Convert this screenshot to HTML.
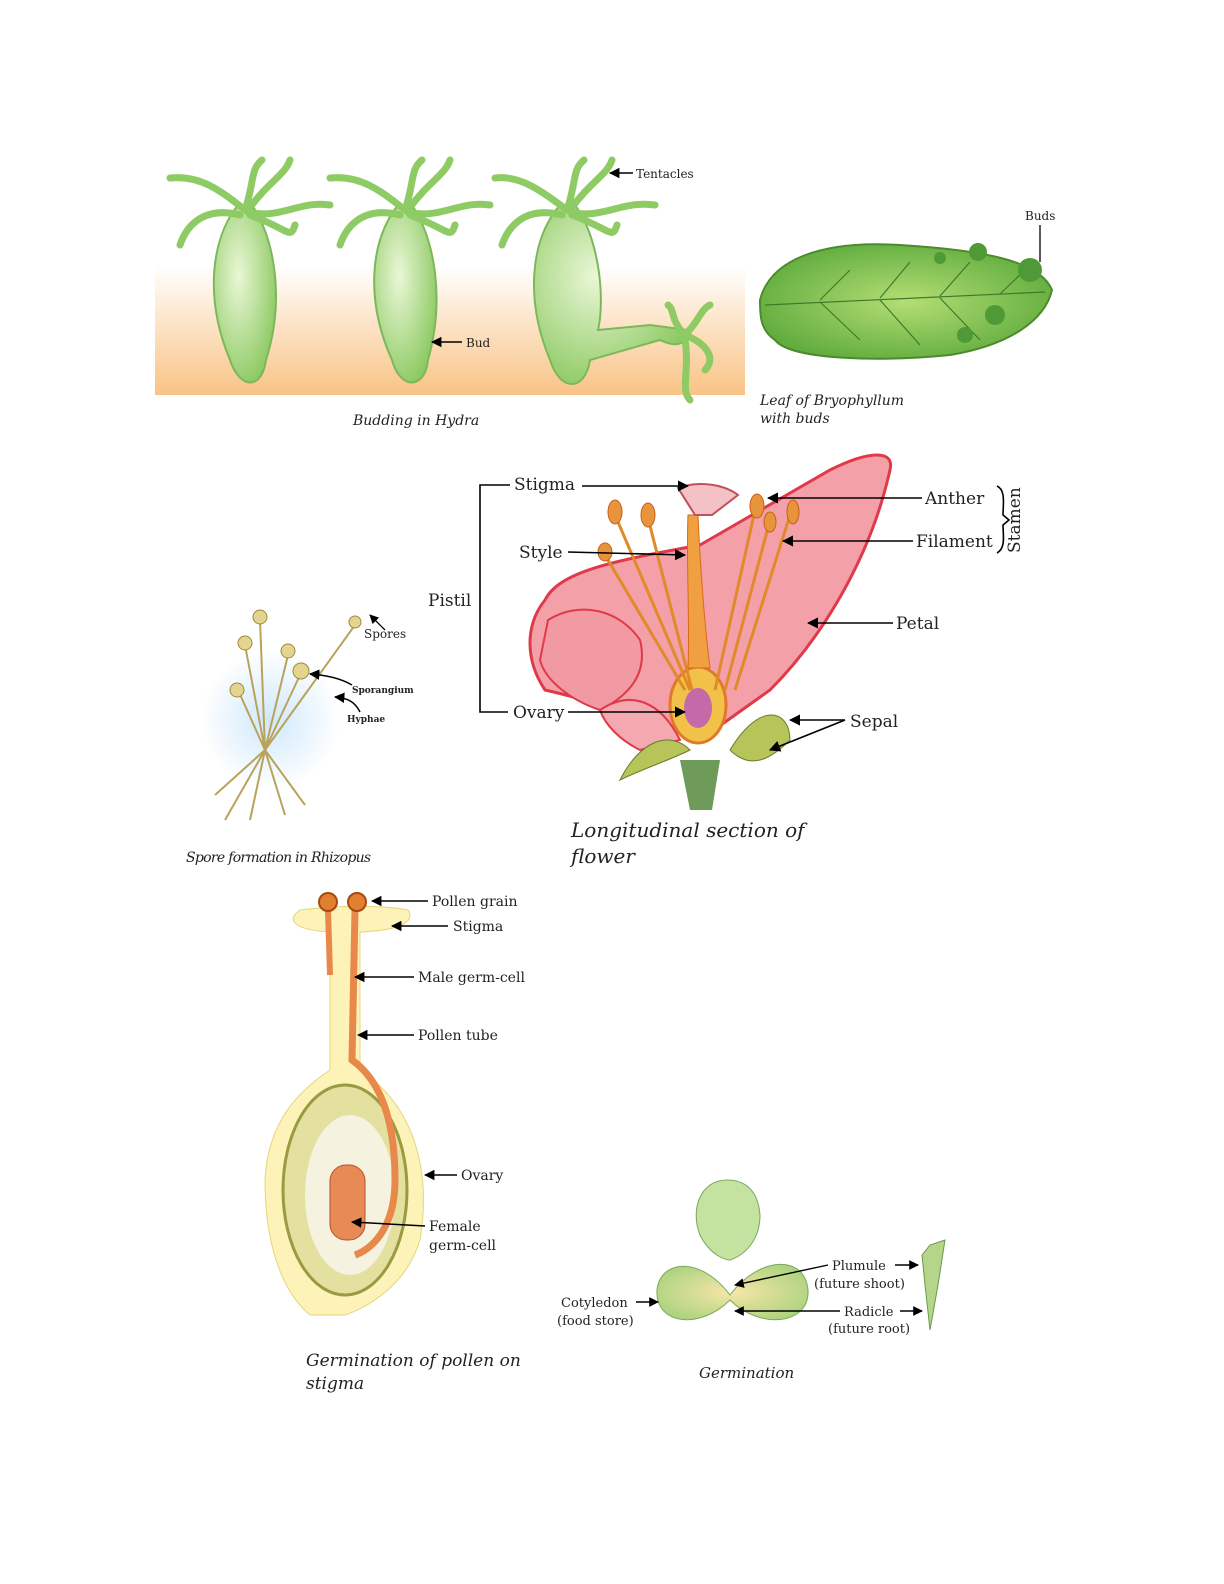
<!DOCTYPE html>
<html><head><meta charset="utf-8"><style>
body{margin:0;background:#fff}
svg{display:block}
text{font-family:"DejaVu Serif","Liberation Serif",serif;fill:#222}
.i{font-style:italic}
</style></head><body>
<svg width="1224" height="1584" viewBox="0 0 1224 1584" xmlns="http://www.w3.org/2000/svg">
<defs>
<linearGradient id="og" x1="0" y1="0" x2="0" y2="1"><stop offset="0" stop-color="#fff"/><stop offset="1" stop-color="#f9c385"/></linearGradient>
<radialGradient id="hg" cx="0.4" cy="0.4" r="0.7"><stop offset="0" stop-color="#eaf7d6"/><stop offset="1" stop-color="#86c65a"/></radialGradient>
<radialGradient id="lg" cx="0.5" cy="0.5" r="0.6"><stop offset="0" stop-color="#b4de74"/><stop offset="1" stop-color="#5aa83a"/></radialGradient>
<radialGradient id="bl" cx="0.5" cy="0.5" r="0.5"><stop offset="0" stop-color="#cfe8fb"/><stop offset="1" stop-color="#fff"/></radialGradient>
<radialGradient id="cg" cx="0.5" cy="0.5" r="0.6"><stop offset="0" stop-color="#f8e6a8"/><stop offset="1" stop-color="#a9d27e"/></radialGradient>
<marker id="a" viewBox="0 0 10 10" refX="9" refY="5" markerWidth="7" markerHeight="7" orient="auto-start-reverse"><path d="M0,0L10,5L0,10z" fill="#000"/></marker>
</defs>
<!-- Hydra -->
<rect x="155" y="265" width="590" height="130" fill="url(#og)"/>
<g fill="url(#hg)" stroke="#7cb85a" stroke-width="2">
<path d="M238,205 C210,240 205,300 230,360 C240,390 262,390 266,360 C285,300 275,240 252,205Z"/>
<path d="M398,205 C370,240 365,300 392,360 C400,390 425,390 428,360 C445,300 435,240 412,205Z"/>
<path d="M560,205 C530,240 525,300 550,360 C560,392 585,392 590,360 L660,340 C680,350 690,340 688,330 L650,325 L598,330 C605,300 600,240 575,205Z"/>
</g>
<g fill="none" stroke="#8fcb64" stroke-width="7" stroke-linecap="round">
<path d="M245,210 C220,190 200,175 170,178 M245,210 C255,180 250,170 262,160 M248,210 C270,180 285,175 290,160 M248,212 C280,220 300,200 330,205 M240,215 C200,205 185,230 180,245 M250,215 C290,230 290,240 295,225"/>
<path d="M405,210 C380,190 360,175 330,178 M405,210 C415,180 410,170 422,160 M408,210 C430,180 445,175 450,160 M408,212 C440,220 460,200 490,205 M400,215 C360,205 345,230 340,245 M410,215 C450,230 450,240 455,225"/>
<path d="M567,210 C540,190 520,175 495,178 M567,210 C577,180 572,170 584,160 M570,210 C592,180 607,175 612,160 M570,212 C602,220 622,200 655,205 M562,215 C522,205 507,230 502,245 M572,215 C612,230 612,240 617,225"/>
<path d="M685,335 C700,320 700,310 710,305 M685,335 C710,345 715,360 705,370 M685,340 C690,370 680,390 690,400 M685,335 C670,320 675,310 668,305"/>
</g>
<line x1="462" y1="342" x2="432" y2="342" stroke="#000" stroke-width="1.5" marker-end="url(#a)"/>
<text x="466" y="347" font-size="12">Bud</text>
<line x1="633" y1="173" x2="610" y2="173" stroke="#000" stroke-width="1.5" marker-end="url(#a)"/>
<text x="636" y="178" font-size="12">Tentacles</text>
<text x="353" y="425" font-size="14" class="i">Budding in Hydra</text>
<!-- Leaf -->
<path d="M760,300 C770,260 820,240 900,245 C980,250 1040,260 1052,290 C1045,320 1010,345 950,355 C880,362 790,360 775,340 C760,330 760,315 760,300Z" fill="url(#lg)" stroke="#4d8a2e" stroke-width="2"/>
<g stroke="#3e7a2a" fill="none" stroke-width="1.2"><path d="M765,305 L1045,292 M820,300 L850,270 M880,298 L910,262 M940,296 L970,262 M1000,294 L1025,270 M820,302 L860,340 M880,300 L920,345 M940,298 L980,340"/></g>
<g fill="#4f9a36"><circle cx="1030" cy="270" r="12"/><circle cx="978" cy="252" r="9"/><circle cx="940" cy="258" r="6"/><circle cx="995" cy="315" r="10"/><circle cx="965" cy="335" r="8"/></g>
<line x1="1040" y1="225" x2="1040" y2="262" stroke="#000" stroke-width="1.3"/>
<text x="1025" y="220" font-size="12">Buds</text>
<text x="760" y="405" font-size="14" class="i">Leaf of Bryophyllum</text>
<text x="760" y="423" font-size="14" class="i">with buds</text>
<!-- Rhizopus -->
<ellipse cx="270" cy="720" rx="70" ry="70" fill="url(#bl)"/>
<g stroke="#b9a35a" stroke-width="2" fill="none">
<path d="M265,750 L260,620 M265,750 L245,645 M265,750 L288,655 M265,750 L300,675 M265,750 L238,690 M265,750 L355,625 M265,750 L225,820 M265,750 L250,820 M265,750 L285,815 M265,750 L305,805 M265,750 L215,795"/>
</g>
<g fill="#e3d58f" stroke="#a08a3c"><circle cx="260" cy="617" r="7"/><circle cx="245" cy="643" r="7"/><circle cx="288" cy="651" r="7"/><circle cx="301" cy="671" r="8"/><circle cx="237" cy="690" r="7"/><circle cx="355" cy="622" r="6"/></g>
<line x1="385" y1="630" x2="370" y2="615" stroke="#000" stroke-width="1.3" marker-end="url(#a)"/>
<text x="364" y="638" font-size="12">Spores</text>
<path d="M352,685 C340,678 325,675 310,674" stroke="#000" stroke-width="1.5" fill="none" marker-end="url(#a)"/>
<text x="352" y="693" font-size="9" font-weight="bold">Sporangium</text>
<path d="M360,712 C355,702 348,698 335,697" stroke="#000" stroke-width="1.5" fill="none" marker-end="url(#a)"/>
<text x="347" y="722" font-size="9" font-weight="bold">Hyphae</text>
<text x="186" y="862" font-size="14" class="i" letter-spacing="-0.7">Spore formation in Rhizopus</text>
<!-- Flower -->
<path d="M545,600 C560,570 620,560 700,545 L830,470 C870,450 895,450 890,470 C870,560 820,640 770,690 L700,740 C650,720 590,700 545,690 C525,660 525,625 545,600Z" fill="#f4a0a8" stroke="#e03a4a" stroke-width="3"/>
<path d="M548,620 C580,600 620,610 640,640 C650,680 620,700 600,710 C570,700 545,680 540,660 Z" fill="#f29aa4" stroke="#e03a4a" stroke-width="2"/>
<path d="M600,710 C630,690 660,700 680,740 L640,750 C620,740 605,725 600,710Z" fill="#f4a8b0" stroke="#e03a4a" stroke-width="2"/>
<path d="M680,760 L690,810 L712,810 L720,760Z" fill="#6e9a5a"/>
<path d="M620,780 C640,740 670,730 690,750 C670,760 640,770 620,780Z M730,750 C760,700 790,710 790,740 C770,760 750,770 730,750Z" fill="#b6c45a" stroke="#6b7a2a"/>
<ellipse cx="698" cy="705" rx="28" ry="38" fill="#f2c14a" stroke="#e07a2a" stroke-width="3"/>
<ellipse cx="698" cy="708" rx="14" ry="20" fill="#c46aa8"/>
<path d="M688,668 C690,620 686,560 688,515 L698,515 C700,560 704,620 710,668Z" fill="#f0a040" stroke="#d86a1a"/>
<path d="M678,488 C700,480 725,485 738,495 L712,515 L695,515Z" fill="#f4c2c6" stroke="#c0505a" stroke-width="2"/>
<g stroke="#e08a2a" stroke-width="3" fill="none"><path d="M615,515 L690,690 M648,518 L692,690 M605,555 L685,690 M755,510 L715,690 M770,520 L725,690 M790,515 L735,690"/></g>
<g fill="#e8943a" stroke="#c8601a"><ellipse cx="615" cy="512" rx="7" ry="12"/><ellipse cx="648" cy="515" rx="7" ry="12"/><ellipse cx="605" cy="552" rx="7" ry="9"/><ellipse cx="757" cy="506" rx="7" ry="12"/><ellipse cx="770" cy="522" rx="6" ry="10"/><ellipse cx="793" cy="512" rx="6" ry="12"/></g>
<g stroke="#000" stroke-width="1.6" fill="none">
<path d="M510,485 L480,485 L480,712 L508,712"/>
<line x1="582" y1="486" x2="688" y2="486" marker-end="url(#a)"/>
<line x1="568" y1="552" x2="685" y2="555" marker-end="url(#a)"/>
<line x1="568" y1="712" x2="685" y2="712" marker-end="url(#a)"/>
<line x1="922" y1="498" x2="768" y2="498" marker-end="url(#a)"/>
<line x1="913" y1="541" x2="783" y2="541" marker-end="url(#a)"/>
<line x1="893" y1="623" x2="808" y2="623" marker-end="url(#a)"/>
<line x1="845" y1="720" x2="790" y2="720" marker-end="url(#a)"/>
<line x1="845" y1="720" x2="770" y2="750" marker-end="url(#a)"/>
<path d="M997,486 C1006,490 1003,505 1003,515 L1009,520 L1003,525 C1003,535 1006,548 997,553"/>
</g>
<text x="514" y="490" font-size="17">Stigma</text>
<text x="519" y="558" font-size="17">Style</text>
<text x="428" y="606" font-size="17">Pistil</text>
<text x="513" y="718" font-size="17">Ovary</text>
<text x="925" y="504" font-size="17">Anther</text>
<text x="916" y="547" font-size="17">Filament</text>
<text transform="translate(1020,553) rotate(-90)" font-size="17">Stamen</text>
<text x="896" y="629" font-size="17">Petal</text>
<text x="850" y="727" font-size="17">Sepal</text>
<text x="571" y="837" font-size="20" class="i">Longitudinal section of</text>
<text x="571" y="863" font-size="20" class="i">flower</text>
<!-- Pollen germination -->
<path d="M300,910 C340,905 380,905 408,910 C415,920 405,930 360,932 L360,1070 C420,1110 430,1180 420,1240 C405,1290 360,1310 345,1315 L310,1315 C280,1290 265,1240 265,1180 C268,1120 300,1090 330,1070 L330,932 C295,930 285,920 300,910Z" fill="#fdf3b8" stroke="#e6d47a"/>
<ellipse cx="345" cy="1190" rx="62" ry="105" fill="#e3e0a0" stroke="#9a9a40" stroke-width="3"/>
<ellipse cx="350" cy="1195" rx="45" ry="80" fill="#f5f2e0"/>
<rect x="330" y="1165" width="35" height="75" rx="16" fill="#e88a55" stroke="#b8502a"/>
<path d="M355,910 L352,1060 C380,1080 395,1120 395,1180 C395,1230 370,1250 355,1255" stroke="#e8884a" stroke-width="7" fill="none"/>
<path d="M328,910 L330,975" stroke="#e8884a" stroke-width="6"/>
<g fill="#e08030" stroke="#a84a10" stroke-width="2"><circle cx="328" cy="902" r="9"/><circle cx="357" cy="902" r="9"/></g>
<g stroke="#000" stroke-width="1.5">
<line x1="428" y1="901" x2="372" y2="901" marker-end="url(#a)"/>
<line x1="448" y1="926" x2="392" y2="926" marker-end="url(#a)"/>
<line x1="414" y1="977" x2="355" y2="977" marker-end="url(#a)"/>
<line x1="414" y1="1035" x2="358" y2="1035" marker-end="url(#a)"/>
<line x1="457" y1="1175" x2="425" y2="1175" marker-end="url(#a)"/>
<line x1="425" y1="1226" x2="352" y2="1222" marker-end="url(#a)"/>
</g>
<g font-size="14"><text x="432" y="906">Pollen grain</text><text x="453" y="931">Stigma</text><text x="418" y="982">Male germ-cell</text><text x="418" y="1040">Pollen tube</text><text x="461" y="1180">Ovary</text><text x="429" y="1231">Female</text><text x="429" y="1250">germ-cell</text></g>
<text x="306" y="1366" font-size="17" class="i">Germination of pollen on</text>
<text x="306" y="1389" font-size="17" class="i">stigma</text>
<!-- Germination -->
<path d="M727,1180 C700,1180 690,1210 700,1235 C710,1255 725,1260 730,1260 C745,1255 760,1240 760,1215 C758,1190 745,1180 727,1180Z" fill="#c4e3a0" stroke="#7aa85a"/>
<path d="M730,1295 C700,1255 660,1260 657,1290 C655,1325 700,1330 730,1300 C760,1330 810,1325 808,1290 C805,1255 760,1255 730,1295Z" fill="url(#cg)" stroke="#7aa85a"/>
<path d="M922,1255 L930,1245 L945,1240 L938,1285 L930,1330 L925,1285Z" fill="#b5d68a" stroke="#6a9a4a"/>
<g stroke="#000" stroke-width="1.4">
<line x1="636" y1="1302" x2="658" y2="1302" marker-end="url(#a)"/>
<line x1="828" y1="1265" x2="735" y2="1285" marker-end="url(#a)"/>
<line x1="840" y1="1311" x2="735" y2="1311" marker-end="url(#a)"/>
<line x1="895" y1="1265" x2="918" y2="1265" marker-end="url(#a)"/>
<line x1="900" y1="1311" x2="922" y2="1311" marker-end="url(#a)"/>
</g>
<g font-size="13"><text x="561" y="1307">Cotyledon</text><text x="557" y="1325">(food store)</text><text x="832" y="1270">Plumule</text><text x="814" y="1288">(future shoot)</text><text x="844" y="1316">Radicle</text><text x="828" y="1333">(future root)</text></g>
<text x="699" y="1378" font-size="15" class="i">Germination</text>
</svg>
</body></html>
